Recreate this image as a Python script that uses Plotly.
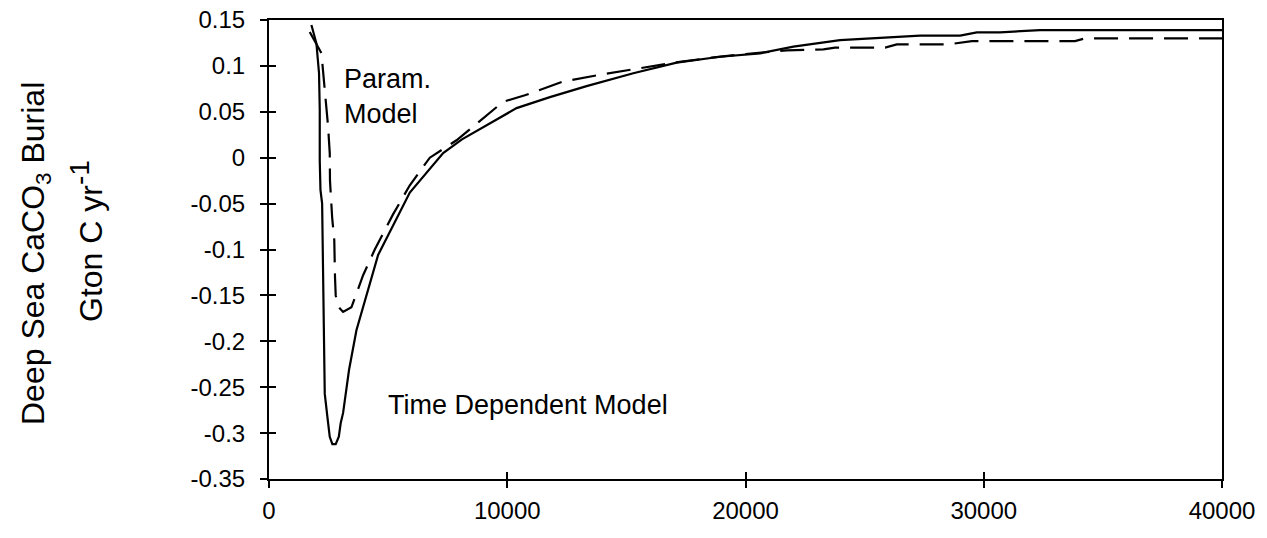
import plotly.graph_objects as go

# Time Dependent Model (solid)
td_years = [1780, 1990, 2100, 2130, 2130, 2160, 2230, 2270, 2300, 2340, 2450, 2550, 2660, 2800,
            2930, 3010, 3110, 3180, 3360, 3670, 4580, 5910, 7310, 8100, 9690, 10390, 11790,
            13330, 15290, 17110, 18930, 20610, 22010, 23970, 27330, 29010, 29710, 30680,
            32360, 40000]
td_burial = [0.1446, 0.1246, 0.092, 0.052, -0.003, -0.035, -0.05, -0.13, -0.202, -0.257, -0.282,
             -0.304, -0.312, -0.312, -0.304, -0.289, -0.278, -0.264, -0.231, -0.188, -0.106,
             -0.038, 0.005, 0.02, 0.043, 0.054, 0.066, 0.078, 0.092, 0.1035, 0.110, 0.1137,
             0.121, 0.128, 0.133, 0.133, 0.1366, 0.1366, 0.139, 0.139]

# Parameterized Model (dashed)
pm_years = [1710, 2200, 2340, 2480, 2550, 2560, 2650, 2740, 2770, 2800, 2900, 3110, 3460, 3950,
            4440, 5200, 5910, 6750, 7870, 9830, 10740, 11370, 12350, 13820, 15430, 16970,
            18580, 20000, 21730, 23270, 23760, 25860, 26350, 28520, 29500, 33830, 34250, 40000]
pm_burial = [0.137, 0.114, 0.074, 0.034, 0.005, -0.025, -0.065, -0.09, -0.13, -0.15, -0.162,
             -0.168, -0.163, -0.128, -0.1, -0.062, -0.03, 0.0, 0.019, 0.061, 0.068, 0.074,
             0.083, 0.090, 0.097, 0.1035, 0.109, 0.113, 0.117, 0.118, 0.120, 0.120, 0.1235,
             0.1235, 0.127, 0.127, 0.130, 0.130]

x_ticks = [0, 10000, 20000, 30000, 40000]
x_ticktext = ["0", "10000", "20000", "30000", "40000"]
y_ticks = [0.15, 0.1, 0.05, 0, -0.05, -0.1, -0.15, -0.2, -0.25, -0.3, -0.35]
y_ticktext = ["0.15", "0.1", "0.05", "0", "-0.05", "-0.1", "-0.15", "-0.2", "-0.25", "-0.3", "-0.35"]

FONT = "Arial, Liberation Sans, sans-serif"
TICK_FS = 24
ANN_FS = 27
TITLE_FS = 32

W, H = 1267, 538
l, t = 269, 20
pw, ph = 1222 - 269, 479 - 20
r = W - l - pw
b = H - t - ph

fig = go.Figure()
fig.add_trace(go.Scatter(x=td_years, y=td_burial, mode="lines",
                         line=dict(color="black", width=2.2), showlegend=False))
fig.add_trace(go.Scatter(x=pm_years, y=pm_burial, mode="lines",
                         line=dict(color="black", width=2.2, dash="24px,11px"), showlegend=False))
# empty trace on overlay axes (for crossing tick marks)
fig.add_trace(go.Scatter(x=[], y=[], xaxis="x2", yaxis="y2", showlegend=False))

axis_common = dict(showgrid=False, zeroline=False, automargin=False)
fig.update_layout(
    template="none",
    width=W, height=H,
    margin=dict(l=l, r=r, t=t, b=b, autoexpand=False),
    plot_bgcolor="white", paper_bgcolor="white",
    font=dict(family=FONT, size=TICK_FS, color="black"),
    xaxis=dict(range=[0, 40000], tickvals=x_ticks, ticktext=x_ticktext,
               ticks="outside", ticklen=7, tickwidth=2, tickcolor="black",
               showline=True, linewidth=2, linecolor="black", mirror=True,
               ticklabelstandoff=2, ticklabeloverflow="allow",
               tickfont=dict(size=TICK_FS), **axis_common),
    yaxis=dict(range=[-0.35, 0.15], tickvals=y_ticks, ticktext=y_ticktext,
               ticks="outside", ticklen=7, tickwidth=2, tickcolor="black",
               showline=True, linewidth=2, linecolor="black", mirror=True,
               ticklabelstandoff=10, ticklabeloverflow="allow",
               tickfont=dict(size=TICK_FS), **axis_common),
    xaxis2=dict(range=[0, 40000], tickvals=x_ticks, overlaying="x", anchor="y2", side="bottom",
                ticks="inside", ticklen=7, tickwidth=2, tickcolor="black",
                showticklabels=False, showline=False, **axis_common),
    yaxis2=dict(range=[-0.35, 0.15], tickvals=y_ticks, overlaying="y", anchor="x2", side="left",
                ticks="inside", ticklen=7, tickwidth=2, tickcolor="black",
                showticklabels=False, showline=False, **axis_common),
    annotations=[
        dict(text="Param.<br>Model", x=3050, y=0.067, xref="x", yref="y",
             xanchor="left", yanchor="middle", align="left", showarrow=False,
             font=dict(size=ANN_FS)),
        dict(text="Time Dependent Model", x=4900, y=-0.269, xref="x", yref="y",
             xanchor="left", yanchor="middle", showarrow=False, font=dict(size=ANN_FS)),
        dict(text="Deep Sea CaCO<sub>3</sub> Burial", x=36, y=254, xref="paper", yref="paper",
             showarrow=False, textangle=-90, font=dict(size=TITLE_FS)),
        dict(text="Gton C yr<sup><span style='font-size:28px'>-1</span></sup>", x=87, y=241,
             xref="paper", yref="paper",
             showarrow=False, textangle=-90, font=dict(size=TITLE_FS)),
    ],
)
# convert page-pixel positions for the y-title annotations to paper coordinates
for ann in fig.layout.annotations[2:]:
    px, py = ann.x, ann.y
    ann.x = (px - l) / pw
    ann.y = 1 - (py - t) / ph
    ann.xanchor = "center"
    ann.yanchor = "middle"

# remove the default 8px page margin so the figure sits at the window's top-left corner
fig.write_html("out.html", config={"displayModeBar": False},
               post_script="document.body.style.margin='0';")
